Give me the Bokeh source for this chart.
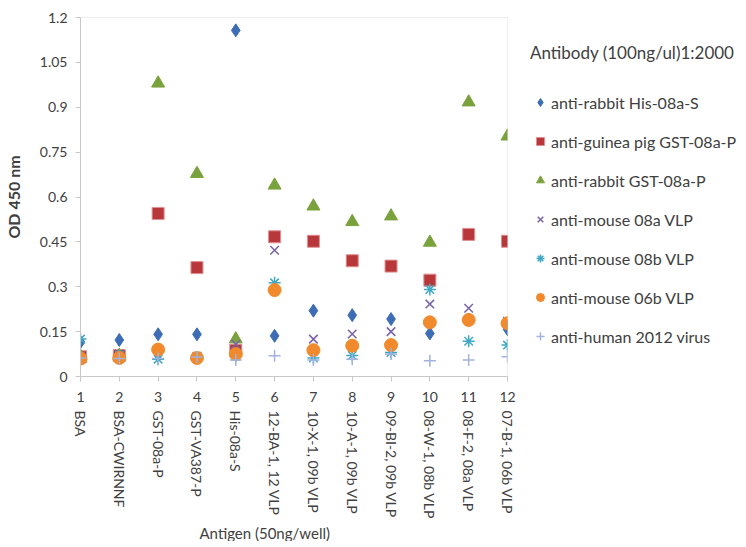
import math
from bokeh.plotting import figure
from bokeh.models import (Range1d, FixedTicker, LinearAxis, NumeralTickFormatter,
                          Legend, LegendItem, Title)
from bokeh.embed import file_html
from bokeh.resources import INLINE

antigen_idx = [1, 2, 3, 4, 5, 6, 7, 8, 9, 10, 11, 12]
antigen_names = ["BSA", "BSA-CWIRNNF", "GST-08a-P", "GST-VA387-P", "His-08a-S",
                 "12-BA-1, 12 VLP", "10-X-1, 09b VLP", "10-A-1, 09b VLP",
                 "09-BI-2, 09b VLP", "08-W-1, 08b VLP", "08-F-2, 08a VLP",
                 "07-B-1, 06b VLP"]

rabbit_his_08a_s = [0.115, 0.122, 0.141, 0.141, 1.157, 0.136, 0.220, 0.205, 0.192, 0.144, 0.190, 0.158]
guinea_gst_08a_p = [0.066, 0.070, 0.545, 0.364, 0.088, 0.467, 0.452, 0.387, 0.369, 0.322, 0.475, 0.452]
rabbit_gst_08a_p = [0.068, 0.070, 0.980, 0.678, 0.125, 0.639, 0.569, 0.517, 0.536, 0.448, 0.917, 0.803]
mouse_08a_vlp = [0.068, 0.075, 0.070, 0.068, 0.108, 0.422, 0.125, 0.142, 0.150, 0.242, 0.228, 0.185]
mouse_08b_vlp = [0.125, 0.070, 0.058, 0.065, 0.068, 0.313, 0.062, 0.070, 0.080, 0.291, 0.118, 0.105]
mouse_06b_vlp = [0.060, 0.062, 0.090, 0.062, 0.075, 0.289, 0.088, 0.103, 0.105, 0.181, 0.189, 0.178]
human_2012 = [0.062, 0.060, 0.060, 0.065, 0.055, 0.069, 0.055, 0.058, 0.075, 0.053, 0.055, 0.066]

y_ticks = [0, 0.15, 0.3, 0.45, 0.6, 0.75, 0.9, 1.05, 1.2]

# name, values, marker, line colour, fill colour, size
series = [
    ("anti-rabbit His-08a-S", rabbit_his_08a_s, "diamond", "#3d6db5", "#3d6db5", 13),
    ("anti-guinea pig GST-08a-P", guinea_gst_08a_p, "square", "#e09090", "#b8373a", 12),
    ("anti-rabbit GST-08a-P", rabbit_gst_08a_p, "triangle", "#7aa23c", "#7aa23c", 13),
    ("anti-mouse 08a VLP", mouse_08a_vlp, "x", "#7a62a8", "#7a62a8", 12),
    ("anti-mouse 08b VLP", mouse_08b_vlp, "asterisk", "#3fa8c4", "#3fa8c4", 12),
    ("anti-mouse 06b VLP", mouse_06b_vlp, "circle", "#f08a2c", "#f08a2c", 13),
    ("anti-human 2012 virus", human_2012, "cross", "#a3b2de", "#a3b2de", 12),
]

FONT = "Lato"
TXT = "#404040"

p = figure(frame_width=427, frame_height=359, output_backend="svg", toolbar_location=None,
           x_range=Range1d(1, 12), y_range=Range1d(0, 1.2),
           min_border_left=80, min_border_top=17, min_border_right=239,
           min_border_bottom=0, x_axis_location=None, y_axis_location=None)
p.xgrid.visible = False
p.ygrid.visible = False
p.outline_line_color = "#eeeeee"
p.background_fill_color = "white"
p.border_fill_color = "white"

yaxis = LinearAxis(ticker=FixedTicker(ticks=y_ticks),
                   formatter=NumeralTickFormatter(format="0.[00]"),
                   axis_label="OD 450 nm")
yaxis.axis_line_color = "#c8c8c8"
yaxis.major_tick_line_color = "#c8c8c8"
yaxis.major_tick_out = 5
yaxis.major_tick_in = 0
yaxis.minor_tick_line_color = None
yaxis.major_label_standoff = 8
yaxis.major_label_text_font = FONT
yaxis.major_label_text_font_size = "14px"
yaxis.major_label_text_color = TXT
yaxis.axis_label_text_font = FONT
yaxis.axis_label_text_font_size = "16px"
yaxis.axis_label_text_font_style = "bold"
yaxis.axis_label_text_color = TXT
yaxis.axis_label_standoff = 14
p.add_layout(yaxis, "left")

xaxis = LinearAxis(ticker=FixedTicker(ticks=antigen_idx))
xaxis.axis_line_color = "#c8c8c8"
xaxis.major_tick_line_color = "#c8c8c8"
xaxis.major_tick_out = 5
xaxis.major_tick_in = 0
xaxis.minor_tick_line_color = None
xaxis.major_label_standoff = 10
xaxis.major_label_text_font = FONT
xaxis.major_label_text_font_size = "14px"
xaxis.major_label_text_color = TXT
p.add_layout(xaxis, "below")

xaxis2 = LinearAxis(ticker=FixedTicker(ticks=antigen_idx),
                    major_label_overrides={i: n for i, n in zip(antigen_idx, antigen_names)})
xaxis2.axis_line_color = None
xaxis2.major_tick_line_color = None
xaxis2.minor_tick_line_color = None
xaxis2.major_label_orientation = -math.pi / 2
xaxis2.major_label_standoff = 0
xaxis2.major_label_text_font = FONT
xaxis2.major_label_text_font_size = "14px"
xaxis2.major_label_text_color = TXT
p.add_layout(xaxis2, "below")

xtitle = Title(text="Antigen (50ng/well)", align="left", offset=119,
               text_font=FONT, text_font_size="15px", text_font_style="normal",
               text_color=TXT, standoff=0)
p.add_layout(xtitle, "below")

items = []
for name, vals, marker, color, fill, size in series:
    r = p.scatter(antigen_idx, vals, marker=marker, size=size,
                  line_color=color, fill_color=fill,
                  line_width=1.5 if marker in ("x", "asterisk", "cross") else 1)
    items.append(LegendItem(label=name, renderers=[r]))

legend = Legend(items=items, title="Antibody (100ng/ul)1:2000", location=(23, 29))
legend.border_line_color = None
legend.background_fill_alpha = 0
legend.margin = 0
legend.padding = 2
legend.title_text_font = FONT
legend.title_text_font_size = "17px"
legend.title_text_font_style = "normal"
legend.title_text_color = TXT
legend.title_standoff = 28
legend.label_text_font = FONT
legend.label_text_font_size = "16px"
legend.label_text_color = TXT
legend.label_standoff = 1
legend.glyph_width = 20
legend.glyph_height = 22
legend.label_height = 22
legend.spacing = 17
p.add_layout(legend, "right")

open("out.html", "w").write(file_html(p, INLINE))
